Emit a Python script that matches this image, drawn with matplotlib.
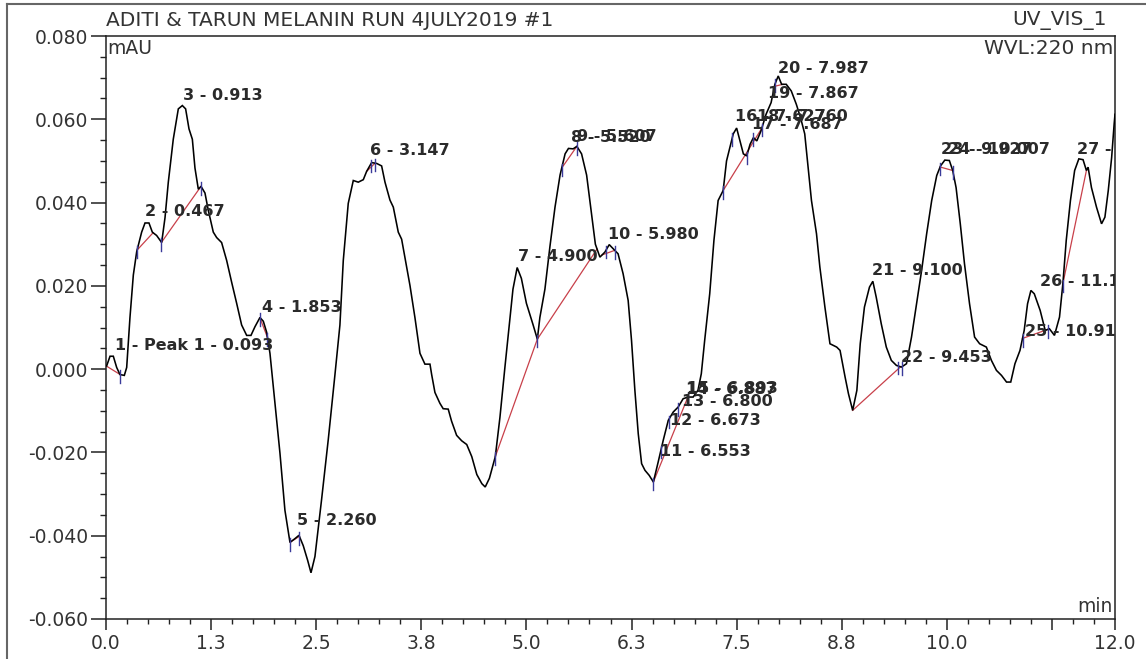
import numpy as np
import matplotlib
matplotlib.use("Agg")
import matplotlib.pyplot as plt
from matplotlib.lines import Line2D
from matplotlib.ticker import MultipleLocator

# ---- chromatogram trace (retention time in min, signal in mAU) ----
time_min = [
    0.008, 0.048, 0.087, 0.127, 0.166, 0.218, 0.246, 0.285, 0.325, 0.365,
    0.424, 0.464, 0.511, 0.551, 0.602, 0.662, 0.702, 0.741, 0.800, 0.860,
    0.908, 0.947, 0.987, 1.027, 1.058, 1.098, 1.130, 1.177, 1.217, 1.276,
    1.316, 1.375, 1.435, 1.494, 1.554, 1.613, 1.673, 1.724, 1.772, 1.831,
    1.871, 1.910, 1.950, 2.010, 2.069, 2.128, 2.188, 2.247, 2.295, 2.346,
    2.398, 2.438, 2.485, 2.564, 2.644, 2.723, 2.782, 2.822, 2.881, 2.941,
    3.000, 3.060, 3.100, 3.159, 3.219, 3.278, 3.318, 3.377, 3.417, 3.476,
    3.516, 3.576, 3.615, 3.674, 3.734, 3.793, 3.853, 3.873, 3.912, 3.971,
    4.010, 4.070, 4.110, 4.170, 4.230, 4.290, 4.350, 4.410, 4.470, 4.510,
    4.560, 4.630, 4.685, 4.744, 4.800, 4.840, 4.890, 4.940, 5.000, 5.080,
    5.130, 5.160, 5.220, 5.280, 5.340, 5.400, 5.460, 5.500, 5.556, 5.600,
    5.656, 5.716, 5.775, 5.820, 5.874, 5.933, 5.985, 6.032, 6.090, 6.150,
    6.210, 6.250, 6.290, 6.330, 6.370, 6.410, 6.460, 6.510, 6.567, 6.627,
    6.687, 6.746, 6.805, 6.864, 6.924, 6.983, 7.040, 7.080, 7.120, 7.180,
    7.230, 7.280, 7.340, 7.380, 7.420, 7.460, 7.500, 7.540, 7.580, 7.620,
    7.660, 7.700, 7.740, 7.790, 7.850, 7.910, 7.955, 7.995, 8.035, 8.090,
    8.150, 8.210, 8.260, 8.310, 8.350, 8.390, 8.450, 8.490, 8.550, 8.610,
    8.690, 8.730, 8.790, 8.830, 8.880, 8.930, 8.970, 9.020, 9.080, 9.120,
    9.160, 9.220, 9.280, 9.340, 9.400, 9.460, 9.520, 9.580, 9.640, 9.700,
    9.760, 9.820, 9.880, 9.925, 9.976, 10.030, 10.070, 10.110, 10.160, 10.210,
    10.270, 10.330, 10.390, 10.470, 10.530, 10.590, 10.650, 10.710, 10.760, 10.810,
    10.870, 10.920, 10.960, 11.000, 11.040, 11.110, 11.170, 11.220, 11.280, 11.340,
    11.380, 11.420, 11.470, 11.520, 11.570, 11.620, 11.660, 11.680, 11.720, 11.780,
    11.840, 11.880, 11.920, 11.960, 11.990, 12.000,
]
signal_mau = [
    0.0008, 0.0031, 0.0031, 0.0004, -0.0013, -0.0015, 0.0004, 0.0124, 0.0226, 0.0282,
    0.0329, 0.0351, 0.0351, 0.0329, 0.0321, 0.0304, 0.0364, 0.0449, 0.0552, 0.0625,
    0.0633, 0.0625, 0.0577, 0.0552, 0.0483, 0.0432, 0.0439, 0.0423, 0.0381, 0.0329,
    0.0316, 0.0304, 0.0261, 0.0209, 0.0158, 0.0106, 0.0081, 0.0081, 0.0102, 0.0124,
    0.0115, 0.0089, 0.0038, -0.0082, -0.0202, -0.0339, -0.0416, -0.0407, -0.0399, -0.0424,
    -0.0459, -0.0489, -0.0450, -0.0313, -0.0168, -0.0013, 0.0106, 0.0261, 0.0398, 0.0453,
    0.0449, 0.0455, 0.0475, 0.0496, 0.0494, 0.0488, 0.0449, 0.0406, 0.0389, 0.0329,
    0.0312, 0.0244, 0.0201, 0.0124, 0.0038, 0.0012, 0.0012, -0.0013, -0.0056, -0.0082,
    -0.0095, -0.0096, -0.0125, -0.0159, -0.0172, -0.0181, -0.0210, -0.0253, -0.0275, -0.0283,
    -0.0262, -0.0210, -0.0116, 0.0004, 0.0115, 0.0192, 0.0244, 0.0218, 0.0158, 0.0106,
    0.0072, 0.0124, 0.0192, 0.0295, 0.0389, 0.0466, 0.0517, 0.0530, 0.0529, 0.0535,
    0.0517, 0.0466, 0.0372, 0.0300, 0.0269, 0.0281, 0.0299, 0.0289, 0.0277, 0.0229,
    0.0165, 0.0069, -0.0051, -0.0155, -0.0227, -0.0243, -0.0255, -0.0271, -0.0223, -0.0171,
    -0.0123, -0.0103, -0.0091, -0.0071, -0.0067, -0.0067, -0.0051, -0.0011, 0.0069, 0.0181,
    0.0309, 0.0405, 0.0429, 0.0500, 0.0532, 0.0565, 0.0579, 0.0548, 0.0517, 0.0512,
    0.0540, 0.0556, 0.0548, 0.0572, 0.0612, 0.0640, 0.0684, 0.0704, 0.0684, 0.0684,
    0.0668, 0.0636, 0.0604, 0.0565, 0.0484, 0.0405, 0.0325, 0.0245, 0.0149, 0.0061,
    0.0053, 0.0045, -0.0019, -0.0059, -0.0099, -0.0051, 0.0061, 0.0149, 0.0197, 0.0211,
    0.0173, 0.0109, 0.0053, 0.0021, 0.0009, 0.0005, 0.0013, 0.0077, 0.0157, 0.0237,
    0.0325, 0.0405, 0.0465, 0.0488, 0.0502, 0.0501, 0.0477, 0.0436, 0.0349, 0.0253,
    0.0157, 0.0077, 0.0061, 0.0053, 0.0021, -0.0003, -0.0015, -0.0031, -0.0031, 0.0013,
    0.0045, 0.0093, 0.0157, 0.0189, 0.0181, 0.0141, 0.0093, 0.0097, 0.0081, 0.0125,
    0.0205, 0.0309, 0.0405, 0.0477, 0.0505, 0.0503, 0.0477, 0.0485, 0.0436, 0.0389,
    0.0349, 0.0365, 0.0429, 0.0508, 0.0589, 0.0612,
]

# ---- integration baselines (start, end retention times) ----
baseline_start = [0.0, 0.37, 0.66, 1.83, 2.19, 3.10, 4.63, 5.13, 5.42, 5.90, 6.51, 7.34, 7.95, 8.88, 9.92, 10.90, 11.38]
baseline_end   = [0.17, 0.56, 1.13, 1.92, 2.30, 3.20, 5.13, 5.84, 5.60, 6.05, 6.92, 7.80, 8.05, 9.45, 10.07, 11.20, 11.66]

# ---- peak delimiter positions ----
delimiter_times = [0.17, 0.37, 0.66, 1.13, 1.83, 1.92, 2.19, 2.30, 3.15, 3.20, 4.63, 5.13,
                   5.42, 5.60, 5.95, 6.05, 6.51, 6.60, 6.69, 6.80, 6.92, 7.34, 7.45, 7.62,
                   7.70, 7.80, 7.96, 9.42, 9.47, 9.92, 10.07, 10.90, 11.20, 11.38]

# ---- peak labels: text, anchor time, anchor signal ----
peak_labels = ["1 - Peak 1 - 0.093", "2 - 0.467", "3 - 0.913", "4 - 1.853", "5 - 2.260",
               "6 - 3.147", "7 - 4.900", "8 - 5.520", "9 - 5.607", "10 - 5.980",
               "11 - 6.553", "12 - 6.673", "13 - 6.800", "14 - 6.887", "15 - 6.893",
               "16 - 7.627", "17 - 7.687", "18 - 7.760", "19 - 7.867", "20 - 7.987",
               "21 - 9.100", "22 - 9.453", "23 - 9.927", "24 - 10.007", "25 - 10.913",
               "26 - 11.127", "27 - 11.573"]
label_t = [0.107, 0.464, 0.916, 1.855, 2.27, 3.14, 4.90, 5.53, 5.60, 5.97,
           6.59, 6.71, 6.85, 6.90, 6.91, 7.48, 7.68, 7.74, 7.87, 7.99,
           9.11, 9.46, 9.93, 10.01, 10.93, 11.11, 11.55]
label_v = [0.0057, 0.0378, 0.0656, 0.0148, -0.0363, 0.0524, 0.0270, 0.0556, 0.0558, 0.0323,
           -0.0197, -0.0123, -0.0077, -0.0049, -0.0046, 0.0606, 0.0587, 0.0606, 0.0661, 0.0721,
           0.0237, 0.0028, 0.0527, 0.0527, 0.0090, 0.0210, 0.0527]

# ---- axis ticks ----
x_major = [0.0, 1.25, 2.5, 3.75, 5.0, 6.25, 7.5, 8.75, 10.0, 11.25, 12.0]
x_major_labels = ["0.0", "1.3", "2.5", "3.8", "5.0", "6.3", "7.5", "8.8", "10.0", "", "12.0"]
y_major = [-0.060, -0.040, -0.020, 0.000, 0.020, 0.040, 0.060, 0.080]

W, H = 1146, 659
plt.rcParams["font.family"] = ["DejaVu Sans"]
TXT = "#333333"

fig = plt.figure(figsize=(W / 100, H / 100), dpi=100, facecolor="white")
ax = fig.add_axes([106 / W, 1 - 619 / H, (1115 - 106) / W, (619 - 36) / H])

t = np.array(time_min)
s = np.array(signal_mau)

ax.plot(t, s, color="black", lw=1.15, solid_joinstyle="miter", zorder=3)

# baselines
for a, b in zip(baseline_start, baseline_end):
    ya, yb = np.interp([a, b], t, s)
    ax.plot([a, b], [ya, yb], color="#c8404a", lw=0.9, zorder=2)

# delimiter marks
for d in delimiter_times:
    yv = np.interp(d, t, s)
    ax.plot([d, d], [yv - 0.0020, yv + 0.0010], color="#3a3a9a", lw=1.0, zorder=4)

# peak labels
for txt, lt, lv in zip(peak_labels, label_t, label_v):
    ax.text(lt, lv, txt, fontsize=11.5, fontweight="bold",
            color="#2a2a2a", ha="left", va="center", clip_on=True, zorder=5)

ax.set_xlim(0, 12)
ax.set_ylim(-0.060, 0.080)
ax.set_xticks(x_major)
ax.set_xticklabels(x_major_labels)
ax.xaxis.set_minor_locator(MultipleLocator(0.25))
ax.set_yticks(y_major)
ax.set_yticklabels([f"{v:.3f}" for v in y_major])
ax.yaxis.set_minor_locator(MultipleLocator(0.005))

ax.tick_params(axis="both", which="both", direction="out", colors="#222222",
               labelcolor=TXT, labelsize=13.5)
ax.tick_params(axis="y", which="major", length=11, width=1.1, pad=2)
ax.tick_params(axis="y", which="minor", length=4.5, width=1.0)
ax.tick_params(axis="x", which="major", length=8, width=1.1, pad=3)
ax.tick_params(axis="x", which="minor", length=3.8, width=1.0)
for sp in ax.spines.values():
    sp.set_linewidth(1.1)
    sp.set_color("#222222")

# annotations around the plot area
fig.text(106 / W, 1 - 20 / H, "ADITI & TARUN MELANIN RUN 4JULY2019 #1", fontsize=14.5,
         color=TXT, ha="left", va="center")
fig.text(1107 / W, 1 - 20 / H, "UV_VIS_1", fontsize=14.5, color=TXT,
         ha="right", va="center")
fig.text(107 / W, 1 - 48 / H, "mAU", fontsize=13.5, color=TXT, ha="left", va="center")
fig.text(1113 / W, 1 - 48 / H, "WVL:220 nm", fontsize=14.5, color=TXT,
         ha="right", va="center")
fig.text(1113 / W, 1 - 606 / H, "min", fontsize=13.5, color=TXT, ha="right", va="center")

# window frame
fig.add_artist(Line2D([6.5 / W, 6.5 / W], [0, 1 - 4 / H], color="#666666", lw=1.5))
fig.add_artist(Line2D([6.5 / W, 1], [1 - 4 / H, 1 - 4 / H], color="#666666", lw=1.5))

fig.savefig("out.png", dpi=100, facecolor="white")
